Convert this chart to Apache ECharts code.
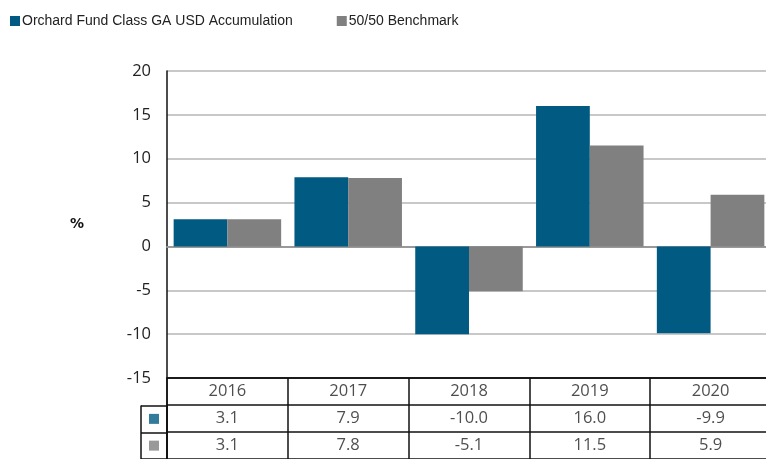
<!DOCTYPE html>
<html><head><meta charset="utf-8">
<script src="https://cdn.jsdelivr.net/npm/echarts@6/dist/echarts.min.js"></script>
<style>html,body{margin:0;padding:0;background:#fff;overflow:hidden}#c{width:771px;height:459px}</style>
</head><body><div id="c"></div>
<script>
var years = ['2016','2017','2018','2019','2020'];
var fundName = 'Orchard Fund Class GA USD Accumulation';
var benchName = '50/50 Benchmark';
var fundValues = [3.1, 7.9, -10.0, 16.0, -9.9];
var benchValues = [3.1, 7.8, -5.1, 11.5, 5.9];
var yTicks = {min: -15, max: 20, interval: 5};
var rowKeys = ['header', 'fund', 'bench'];

var BLUE = '#005a82', GREY = '#808080';
var tableFont = '"Open Sans", "Noto Sans", sans-serif';

var cellData = [];
years.forEach(function (y, i) {
  cellData.push({value: [i, 'header'], txt: y});
  cellData.push({value: [i, 'fund'], txt: fundValues[i].toFixed(1)});
  cellData.push({value: [i, 'bench'], txt: benchValues[i].toFixed(1)});
});

var chart = echarts.init(document.getElementById('c'), null, {renderer: 'canvas'});
chart.setOption({
  animation: false,
  legend: {
    left: 10, top: 14, padding: 0, icon: 'rect', itemWidth: 10, itemHeight: 10, itemGap: 44,
    textStyle: {fontFamily: '"Liberation Sans", Arial, sans-serif', fontSize: 14, color: '#222', padding: [0, 0, 0, -3]},
    data: [fundName, benchName]
  },
  grid: [
    {left: 167, top: 71, right: 0, height: 307},
    {left: 167, top: 378, right: 0, height: 82.5},
    {left: 141, top: 405.5, width: 26, height: 55}
  ],
  xAxis: [
    {gridIndex: 0, type: 'category', data: years,
     axisLine: {onZero: true, lineStyle: {color: '#999', width: 2}},
     axisTick: {show: false}, axisLabel: {show: false}},
    {gridIndex: 1, type: 'category', data: years, position: 'top',
     axisLine: {lineStyle: {color: '#111', width: 1.5}},
     axisTick: {show: false}, axisLabel: {show: false},
     splitLine: {show: true, interval: 0, lineStyle: {color: '#111', width: 1.5}}},
    {gridIndex: 2, type: 'category', data: ['k'],
     axisLine: {show: false}, axisTick: {show: false}, axisLabel: {show: false},
     splitLine: {show: true, interval: 0, lineStyle: {color: '#111', width: 1.5}}}
  ],
  yAxis: [
    {gridIndex: 0, type: 'value', min: yTicks.min, max: yTicks.max, interval: yTicks.interval,
     name: '%', nameLocation: 'middle', nameRotate: 0, nameGap: 83,
     nameTextStyle: {fontFamily: '"DejaVu Sans", sans-serif', fontSize: 14, fontWeight: 'bold', color: '#111', padding: [4, 0, 0, 0]},
     axisLine: {show: true, onZero: false, lineStyle: {color: '#111', width: 1.5}},
     axisTick: {show: false},
     axisLabel: {margin: 16, fontFamily: tableFont, fontSize: 16.5, color: '#222'},
     splitLine: {show: true, lineStyle: {color: '#c8c8c8', width: 2}}},
    {gridIndex: 1, type: 'category', data: rowKeys, inverse: true,
     axisLine: {show: true, lineStyle: {color: '#111', width: 1.5}},
     axisTick: {show: false}, axisLabel: {show: false},
     splitLine: {show: true, interval: 0, lineStyle: {color: '#111', width: 1.5}}},
    {gridIndex: 2, type: 'category', data: ['fund', 'bench'], inverse: true,
     axisLine: {show: false}, axisTick: {show: false}, axisLabel: {show: false},
     splitLine: {show: true, interval: 0, lineStyle: {color: '#111', width: 1.5}}}
  ],
  series: [
    {name: fundName, type: 'bar', xAxisIndex: 0, yAxisIndex: 0, data: fundValues,
     itemStyle: {color: BLUE}, barGap: '0%', barCategoryGap: '11%'},
    {name: benchName, type: 'bar', xAxisIndex: 0, yAxisIndex: 0, data: benchValues,
     itemStyle: {color: GREY}, barGap: '0%', barCategoryGap: '11%'},
    {type: 'scatter', xAxisIndex: 1, yAxisIndex: 1, symbolSize: 0, silent: true,
     data: cellData,
     label: {show: true, position: 'inside', fontFamily: tableFont, fontSize: 16.5, color: '#222',
       formatter: function (p) { return p.data.txt; }}},
    {type: 'scatter', xAxisIndex: 2, yAxisIndex: 2, symbol: 'rect', symbolSize: 10, silent: true,
     data: [{value: ['k', 'fund'], itemStyle: {color: BLUE}}, {value: ['k', 'bench'], itemStyle: {color: GREY}}]}
  ]
});
</script></body></html>
